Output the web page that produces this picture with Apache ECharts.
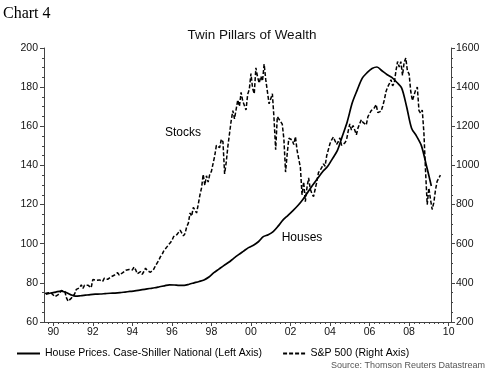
<!DOCTYPE html>
<html>
<head>
<meta charset="utf-8">
<script src="https://cdn.jsdelivr.net/npm/echarts@6/dist/echarts.min.js"></script>
<style>
html,body{margin:0;padding:0;background:#fff;}
#c{width:500px;height:383px;}
</style>
</head>
<body>
<div id="c"></div>
<script>
// ---- Data ----
// Case-Shiller national house prices, quarterly, starting 1989 Q3 (left axis)
const houseStartYear = 1989.625;
const housePrices = [
  74.2, 74.8,
  75.3, 75.8, 75.2, 74.0,
  73.2, 73.4, 73.7, 74.0,
  74.2, 74.3, 74.5, 74.7,
  74.8, 75.0, 75.3, 75.6,
  75.9, 76.3, 76.7, 77.1,
  77.5, 78.0, 78.5, 79.0,
  78.9, 78.7, 78.7, 79.3,
  80.0, 80.7, 81.5, 83.0,
  85.2, 87.0, 88.8, 90.5,
  92.5, 94.4, 96.2, 98.0,
  99.2, 101.0, 103.6, 104.6,
  106.2, 109.0, 112.2, 114.5,
  116.9, 119.5, 122.6, 126.3,
  130.0, 133.4, 136.8, 139.4,
  143.5, 147.7, 155.0, 162.5,
  172.0, 178.5, 184.5, 187.4,
  189.5, 190.3, 188.4, 186.5,
  185.0, 182.5, 179.5, 170.0,
  159.0, 155.0, 150.0, 140.0,
  129.5
];
// S&P 500, monthly, starting July 1989 (right axis)
const spStartYear = 1989 + 7 / 12;
const sp500 = [
  346, 351, 349, 340, 346, 353,
  329, 331, 340, 331, 361, 358, 356, 323, 306, 304, 322, 330,
  344, 367, 375, 375, 390, 371, 388, 395, 388, 392, 375, 417,
  409, 413, 404, 415, 415, 408, 424, 414, 418, 419, 431, 436,
  439, 443, 452, 440, 450, 451, 448, 464, 459, 468, 462, 466,
  481, 467, 446, 451, 457, 444, 458, 475, 463, 472, 454, 459,
  470, 487, 501, 515, 533, 544, 562, 562, 584, 582, 605, 616,
  636, 640, 646, 654, 669, 671, 640, 652, 687, 705, 757, 741,
  786, 791, 757, 801, 848, 885, 954, 899, 947, 915, 955, 970,
  980, 1049, 1102, 1112, 1091, 1134, 1121, 957, 1017, 1099, 1164, 1229,
  1280, 1238, 1286, 1335, 1302, 1373, 1329, 1320, 1283, 1363, 1389, 1469,
  1394, 1366, 1499, 1452, 1421, 1455, 1431, 1518, 1437, 1429, 1315, 1320,
  1366, 1240, 1080, 1249, 1256, 1224, 1211, 1134, 966, 1060, 1139, 1148,
  1130, 1107, 1147, 1077, 1067, 990, 850, 916, 815, 886, 936, 880,
  856, 841, 848, 917, 964, 975, 990, 1008, 996, 1051, 1058, 1112,
  1131, 1145, 1126, 1107, 1121, 1141, 1102, 1104, 1115, 1130, 1174, 1212,
  1181, 1204, 1181, 1157, 1192, 1191, 1234, 1220, 1229, 1207, 1249, 1248,
  1280, 1281, 1295, 1311, 1270, 1270, 1277, 1304, 1336, 1378, 1401, 1418,
  1438, 1407, 1421, 1482, 1531, 1503, 1530, 1460, 1527, 1549, 1481, 1468,
  1379, 1331, 1323, 1386, 1400, 1280, 1267, 1283, 1165, 969, 800, 885,
  826, 775, 810, 873, 919, 919, 950
];
const xTickYears = [1990, 1992, 1994, 1996, 1998, 2000, 2002, 2004, 2006, 2008, 2010];
const leftTicks = [60, 200, 20];
const rightTicks = [200, 1600, 200];
const houseName = 'House Prices. Case-Shiller National (Left Axis)';
const spName = 'S&P 500 (Right Axis)';

// ---- Build ----
const houseData = housePrices.map((v, i) => [houseStartYear + i * 0.25, v]);
const spData = sp500.map((v, i) => [spStartYear + i / 12, v]);
const xMin = 1989.53, xMax = 2010.12;
const quarterTicks = [];
for (let q = Math.ceil(xMin * 4); q <= Math.floor(xMax * 4); q++) quarterTicks.push(q / 4);

const FONT = '"Liberation Sans", Arial, sans-serif';
const axisColor = '#444';
const chart = echarts.init(document.getElementById('c'), null, {renderer: 'canvas'});
const option = {
  animation: false,
  backgroundColor: '#fff',
  textStyle: {fontFamily: FONT, color: '#000'},
  title: {
    text: 'Twin Pillars of Wealth',
    left: 247, top: 23, textAlign: 'center',
    textStyle: {fontFamily: FONT, fontSize: 13.5, fontWeight: 'normal', color: '#111'}
  },
  grid: {left: 44, right: 49, top: 48, bottom: 61},
  legend: {
    left: 17, top: 348, padding: 0,
    itemWidth: 23, itemHeight: 2, itemGap: 21,
    textStyle: {fontFamily: FONT, fontSize: 10.5, color: '#000'},
    data: [
      {name: houseName, icon: 'rect'},
      {name: spName, icon: 'path://M0,0h4v2h-4z M6,0h4v2h-4z M12,0h4v2h-4z M18,0h4v2h-4z'}
    ]
  },
  xAxis: [{
    type: 'value', min: xMin, max: xMax,
    axisLine: {lineStyle: {color: axisColor, width: 1}},
    axisTick: {customValues: quarterTicks, length: 2, lineStyle: {color: axisColor}},
    axisLabel: {
      customValues: xTickYears, margin: 5,
      fontFamily: FONT, fontSize: 10.5, color: '#111',
      formatter: v => String(Math.round(v) % 100).padStart(2, '0')
    },
    splitLine: {show: false}
  }, {
    type: 'value', min: xMin, max: xMax, position: 'bottom',
    axisLine: {show: false},
    axisTick: {customValues: xTickYears, length: 4, lineStyle: {color: axisColor}},
    axisLabel: {show: false},
    splitLine: {show: false}
  }],
  yAxis: [{
    type: 'value', min: leftTicks[0], max: leftTicks[1], interval: leftTicks[2],
    position: 'left',
    axisLine: {show: true, lineStyle: {color: axisColor}},
    axisTick: {show: true, length: 4, lineStyle: {color: axisColor}},
    minorTick: {show: true, splitNumber: 4, length: 2, lineStyle: {color: axisColor}},
    axisLabel: {margin: 6, fontFamily: FONT, fontSize: 10.5, color: '#111', formatter: v => String(v)},
    splitLine: {show: false}
  }, {
    type: 'value', min: rightTicks[0], max: rightTicks[1], interval: rightTicks[2],
    position: 'right',
    axisLine: {show: true, lineStyle: {color: axisColor}},
    axisTick: {show: true, length: 4, lineStyle: {color: axisColor}},
    minorTick: {show: true, splitNumber: 4, length: 2, lineStyle: {color: axisColor}},
    axisLabel: {margin: 5, fontFamily: FONT, fontSize: 10.5, color: '#111', formatter: v => String(v)},
    splitLine: {show: false}
  }],
  series: [{
    name: houseName, type: 'line', xAxisIndex: 0, yAxisIndex: 0,
    data: houseData, showSymbol: false, symbol: 'none', smooth: 0.3,
    lineStyle: {color: '#000', width: 1.7},
    itemStyle: {color: '#000'}
  }, {
    name: spName, type: 'line', xAxisIndex: 0, yAxisIndex: 1,
    data: spData, showSymbol: false, symbol: 'none',
    lineStyle: {color: '#000', width: 1.5, type: [4, 2]},
    itemStyle: {color: '#000'}
  }],
  graphic: [
    {type: 'text', left: 3, top: 6, style: {text: 'Chart 4', font: '16px "Liberation Serif", "Times New Roman", serif', fill: '#000'}},
    {type: 'text', x: 183, y: 133, style: {text: 'Stocks', font: '12px ' + FONT, fill: '#000', textAlign: 'center', textVerticalAlign: 'middle'}},
    {type: 'text', x: 302, y: 238, style: {text: 'Houses', font: '12px ' + FONT, fill: '#000', textAlign: 'center', textVerticalAlign: 'middle'}},
    {type: 'text', x: 485, y: 366, style: {text: 'Source: Thomson Reuters Datastream', font: '9px ' + FONT, fill: '#555', textAlign: 'right', textVerticalAlign: 'middle'}}
  ]
};
chart.setOption(option);
</script>
</body>
</html>
